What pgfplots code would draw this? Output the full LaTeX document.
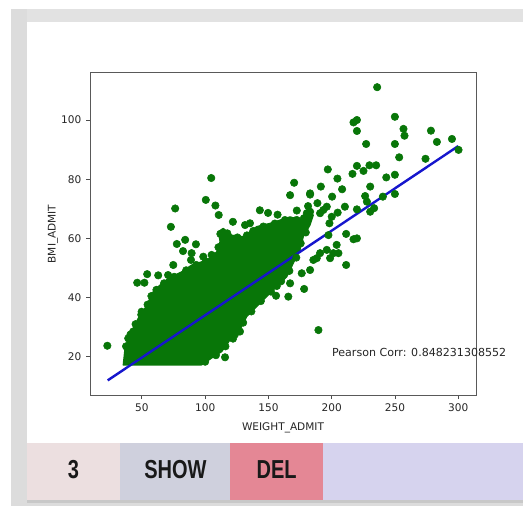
\documentclass[border=0pt]{standalone}
\usepackage{pgfplots}
\pgfplotsset{compat=1.18}
\usepackage{graphicx}
\usepackage{fontspec}
\setmainfont{DejaVu Sans}
\newfontfamily\btnfont{Liberation Sans}
\definecolor{mplgreen}{RGB}{8,118,8}
\definecolor{mplblue}{RGB}{22,22,205}
\definecolor{bandgray}{RGB}{226,226,226}
\definecolor{leftgray}{RGB}{220,220,220}
\definecolor{shadowgray}{RGB}{200,200,200}
\definecolor{btnone}{RGB}{236,223,224}
\definecolor{btnshow}{RGB}{207,208,221}
\definecolor{btndel}{RGB}{228,135,149}
\definecolor{btnrest}{RGB}{214,211,238}
\begin{document}
\begin{tikzpicture}[x=0.75pt,y=0.75pt]
\useasboundingbox (0,0) rectangle (523,506);
\fill[white] (0,0) rectangle (523,506);
\fill[bandgray] (11,484) rectangle (523,497);
\fill[leftgray] (11,0) rectangle (27,497);
\fill[shadowgray] (27,3) rectangle (523,6);
\fill[leftgray] (27,0) rectangle (523,3);
\fill[white] (27,6) rectangle (523,484);
\fill[btnone] (27,6) rectangle (120,63.5);
\fill[btnshow] (120,6) rectangle (230,63.5);
\fill[btndel] (230,6) rectangle (323,63.5);
\fill[btnrest] (323,6) rectangle (523,63.5);
\node[font=\btnfont\bfseries\fontsize{19.5}{20}\selectfont, text=black!90] at (73.5,36) {\scalebox{0.77}[1]{3}};
\node[font=\btnfont\bfseries\fontsize{19.5}{20}\selectfont, text=black!90] at (175.5,36) {\scalebox{0.77}[1]{SHOW}};
\node[font=\btnfont\bfseries\fontsize{19.5}{20}\selectfont, text=black!90] at (276.7,36) {\scalebox{0.77}[1]{DEL}};
\begin{axis}[
  at={(67.5pt,83.25pt)}, anchor=south west,
  scale only axis, width=289.5pt, height=241.5pt,
  xmin=9, xmax=314, ymin=7.05, ymax=115.9,
  xtick={50,100,150,200,250,300}, ytick={20,40,60,80,100},
  xtick pos=bottom, ytick pos=left,
  tick align=outside, major tick length=3pt,
  every tick/.style={black!70, line width=0.6pt},
  axis line style={black!65, line width=0.75pt},
  tick label style={font=\fontsize{7.9}{9}\selectfont, text=black!85},
  /pgf/number format/assume math mode=true,
  label style={font=\fontsize{7.9}{9}\selectfont, text=black!85},
  xlabel={WEIGHT\_ADMIT}, ylabel={BMI\_ADMIT},
  xlabel shift=1.5pt, ylabel shift=-4.5pt,
  clip=false,
]
% dense core of the cloud
\addplot[fill=mplgreen, draw=mplgreen, line width=0.8pt, line join=round] coordinates {
(35.2,17.2) (36.6,22.8) (39.2,26.2) (43.1,29.6) (47.1,33.0) (52.4,36.4) (56.3,39.7)
(58.9,42.0) (64.2,44.2) (70.8,46.5) (81.4,48.7) (89.3,51.0) (97.2,52.1) (103.8,53.3)
(109.1,55.5) (111.7,58.9) (110.4,62.3) (114.3,63.4) (121.0,61.1) (130.1,60.6) (135.4,62.3)
(140.7,64.0) (151.3,65.1) (159.2,66.2) (167.1,67.3) (175.0,66.2) (180.3,68.5) (185.5,67.9)
(182.9,64.5) (177.6,60.6) (175.0,56.1) (169.7,51.6) (164.5,47.0) (156.6,43.7) (148.7,40.3)
(140.7,36.9) (132.8,33.5) (127.5,29.0) (119.6,25.6) (113.1,21.7) (105.1,19.5) (97.2,17.2)
} -- cycle;
% points along the edge of the dense core
\addplot[only marks, mark=*, mark size=2.8pt, mark options={fill=mplgreen, draw=mplgreen}] coordinates {
(37.5,23.5) (41,27.5) (45,31) (49.5,34.2) (54.5,37.6) (57.5,40.5) (61.5,42.6) (67.5,44.8)
(75.5,47.0) (85,49.2) (93,51.0) (100.5,52.2) (106.5,53.9) (110.5,57.0) (112,61.5) (117.5,61.7)
(125.5,60.3) (133,61) (138,62.5) (146,64) (155,65) (163,66.2) (171,66.0) (178,66.8)
(179.5,62) (175.5,58.3) (172,53.5) (166.5,49) (160,45.5) (152,42) (144,38.8) (136.5,35.3)
(130,31.5) (123.5,27.5) (116,23.5) (108.5,20.5) (100,18.3)
};
% individual points
\addplot[only marks, mark=*, mark size=2.8pt, mark options={fill=mplgreen, draw=mplgreen}] coordinates {
(22.7,23.7) (104.8,80.4) (100.5,73.0) (108.1,71.1) (110.7,67.9) (76.3,70.1) (72.9,63.9)
(77.6,58.1) (84.2,59.5) (82.5,55.7) (89.3,55.0) (92.7,58.0) (88.8,52.7) (62.9,47.5)
(54.2,47.9) (46.3,45.0) (52.0,45.0) (70.7,47.6) (74.8,51.0) (98.5,53.8) (105.1,54.4)
(49.8,35.2) (43.1,28.5) (39.2,26.2) (115.7,19.8) (122.0,26.1) (127.5,28.5) (121.9,65.6)
(131.5,64.5) (135.4,65.1) (143.2,69.5) (149.7,68.6) (157.2,68.0) (156.6,43.9) (156.0,40.6)
(165.7,40.3) (178.2,42.9) (167.1,44.8) (176.3,48.2) (182.9,49.3) (185.5,52.7) (190.8,55.0)
(188.2,53.3) (196.1,56.1) (198.7,53.3) (201.3,55.0) (203.9,57.8) (205.3,55.0) (211.4,51.0)
(197.4,61.1) (211.4,61.5) (217.2,59.7) (219.9,60.0) (198.2,65.1) (200.0,67.3) (204.7,68.7)
(193.4,69.6) (190.8,68.5) (182.9,69.0) (180.3,68.5) (172.4,66.2) (172.4,69.4) (181.3,70.9)
(188.7,71.9) (196.1,70.7) (210.4,70.7) (219.9,69.8) (230.4,69.0) (233.5,70.2) (227.8,72.4)
(226.4,74.3) (240.4,74.1) (249.9,75.0) (230.4,77.5) (200.3,74.1) (182.9,74.8) (167.1,74.6)
(170.3,78.8) (191.4,77.5) (208.2,76.6) (204.5,80.2) (196.9,83.3) (216.4,81.8) (219.9,84.5)
(225.1,82.8) (229.8,84.7) (235.1,84.7) (243.1,80.6) (249.9,81.5) (253.3,87.4) (274.1,86.9)
(227.2,91.9) (249.9,91.9) (217.2,99.2) (219.9,100.0) (219.9,96.3) (249.9,101.1) (235.9,111.1)
(256.7,97.0) (257.5,94.7) (278.4,96.4) (283.1,92.6) (295.0,93.6) (300.2,89.9) (189.5,29.0)
(182.9,75.2)
};
% regression line
\addplot[mplblue, line width=1.8pt] coordinates {(23,12.0) (300,91.2)};
\node[anchor=west, inner sep=0pt, font=\fontsize{8.3}{9}\selectfont, text=black!85] at (axis cs:200.1,21.4) {Pearson Corr: 0.848231308552};
\end{axis}
\end{tikzpicture}
\end{document}
